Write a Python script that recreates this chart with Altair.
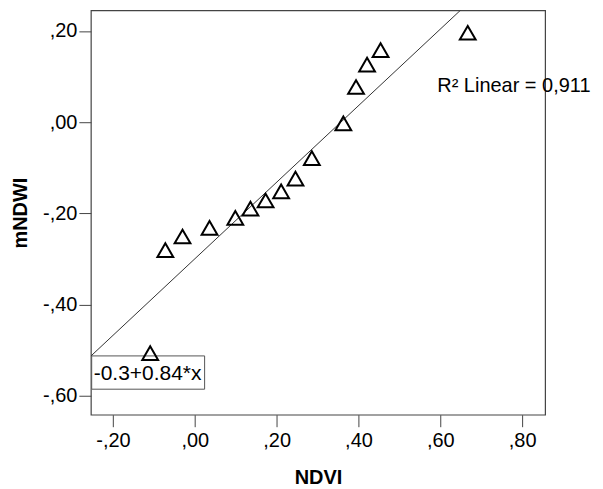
import altair as alt
import pandas as pd

# data
ndvi = [0.667, 0.454, 0.421, 0.394, 0.363, 0.286, 0.246, 0.211, 0.173, 0.136, 0.099, 0.036, -0.030, -0.072, -0.109]
mndwi = [0.196, 0.158, 0.126, 0.077, -0.003, -0.079, -0.124, -0.152, -0.172, -0.190, -0.210, -0.232, -0.251, -0.281, -0.507]

intercept = -0.3
slope = 0.84
x_domain = [-0.254, 0.856]
y_domain = [-0.642, 0.245]
x_ticks = [-0.2, 0.0, 0.2, 0.4, 0.6, 0.8]
y_ticks = [-0.6, -0.4, -0.2, 0.0, 0.2]
r2_label = "R\u00b2  Linear = 0,911"
eq_label = "-0.3+0.84*x"

pts = pd.DataFrame({"NDVI": ndvi, "mNDWI": mndwi})
fit = pd.DataFrame({"NDVI": x_domain,
                    "mNDWI": [intercept + slope * v for v in x_domain]})

FONT = "Liberation Sans"
FS = 20
label_expr = "(datum.value < -0.001 ? '-' : '') + replace(format(abs(datum.value), '.2f'), '0.', ',')"

xs = alt.Scale(domain=x_domain, nice=False, zero=False)
ys = alt.Scale(domain=y_domain, nice=False, zero=False)

x_enc = alt.X("NDVI:Q", scale=xs, title="NDVI",
              axis=alt.Axis(values=x_ticks, labelExpr=label_expr, grid=False,
                            domain=False, tickSize=12, tickColor="#444",
                            labelPadding=4, labelFontSize=FS, labelFont=FONT,
                            labelColor="black", titleFont=FONT, titleFontSize=20,
                            titleFontWeight="bold", titleColor="black",
                            titlePadding=17))
y_enc = alt.Y("mNDWI:Q", scale=ys, title="mNDWI",
              axis=alt.Axis(values=y_ticks, labelExpr=label_expr, grid=False,
                            domain=False, tickSize=12, tickColor="#444",
                            labelPadding=2, labelFontSize=FS, labelFont=FONT,
                            labelColor="black", titleFont=FONT, titleFontSize=20,
                            titleFontWeight="bold", titleColor="black",
                            titlePadding=12))

line = alt.Chart(fit).mark_line(color="#333", strokeWidth=1, clip=True).encode(
    x=x_enc, y=y_enc)

# equation label box anchored at line start
box_df = pd.DataFrame({"x1": [-0.252], "x2": [0.024], "y1": [-0.513], "y2": [-0.586]})
box = alt.Chart(box_df).mark_rect(fill="white", stroke="#555", strokeWidth=1).encode(
    x=alt.X("x1:Q", scale=xs), x2="x2:Q",
    y=alt.Y("y1:Q", scale=ys), y2="y2:Q")

eq_df = pd.DataFrame({"x": [-0.247], "y": [-0.565], "t": [eq_label]})
eq = alt.Chart(eq_df).mark_text(align="left", baseline="alphabetic", font=FONT,
                                fontSize=21, color="black").encode(
    x=alt.X("x:Q", scale=xs), y=alt.Y("y:Q", scale=ys), text="t:N")

points = alt.Chart(pts).mark_point(shape="triangle-up", filled=False, size=250,
                                   color="black", strokeWidth=2, opacity=1).encode(
    x=x_enc, y=y_enc)

r2_df = pd.DataFrame({"x": [0.5925], "y": [0.065], "t": [r2_label]})
r2 = alt.Chart(r2_df).mark_text(align="left", baseline="alphabetic", font=FONT,
                                fontSize=20, color="black").encode(
    x=alt.X("x:Q", scale=xs), y=alt.Y("y:Q", scale=ys), text="t:N")

chart = alt.layer(line, box, eq, points, r2).properties(
    width=455, height=405,
    padding={"left": 83, "top": 2, "right": 50, "bottom": 74},
    autosize=alt.AutoSizeParams(type="none"),
).configure_view(stroke="#444", strokeWidth=1.2)

chart.save("out.html", embed_options={"renderer": "svg", "actions": False})
